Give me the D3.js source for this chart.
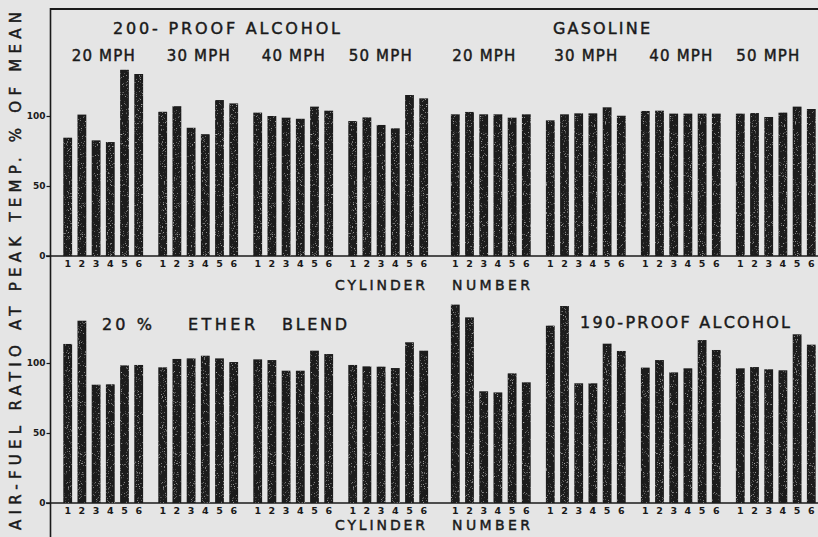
<!DOCTYPE html>
<html lang="en">
<head>
  <meta charset="UTF-8" />
  <title>Air-fuel ratio at peak temperature by cylinder</title>
  <script src="https://cdn.jsdelivr.net/npm/d3@7"></script>
  <style>
    body { margin: 0; background: #e5e5e5; }
    svg { display: block; font-family: "DejaVu Sans", sans-serif; }
    .lbl { stroke: #1a1a1a; stroke-width: 0.45px; }
  </style>
</head>
<body>
  <svg id="chart" width="818" height="537"></svg>
  <script>
    const speeds = ["20 MPH", "30 MPH", "40 MPH", "50 MPH"];
    const cylinders = [1, 2, 3, 4, 5, 6];
    const yTicks = [0, 50, 100];

    // % of mean air-fuel ratio, one row per speed, one value per cylinder
    const alcohol200 = [
      [84.5, 101, 82.6, 81.4, 133, 130],
      [103, 107, 91.6, 87, 111.4, 109],
      [102.4, 100, 98.8, 98, 106.7, 103.8],
      [96.4, 99, 93.6, 91.2, 115, 112.6]
    ];
    const gasoline = [
      [101.2, 102.9, 101.2, 101.2, 98.8, 101.2],
      [96.9, 101.2, 101.9, 101.9, 106.2, 100.2],
      [103.6, 103.8, 101.7, 101.7, 101.7, 101.7],
      [101.7, 102.1, 99.3, 102.4, 106.7, 105]
    ];
    const ether20 = [
      [113.6, 130.2, 84.5, 84.8, 98.3, 98.6],
      [96.9, 102.9, 103.3, 105.2, 103.3, 100.7],
      [102.6, 102.1, 94.5, 94.5, 108.8, 106.4],
      [98.6, 97.6, 97.4, 96.4, 114.8, 108.8]
    ];
    const alcohol190 = [
      [141.7, 132.6, 79.8, 79, 92.6, 86.2],
      [126.7, 140.7, 85.5, 85.5, 113.8, 108.6],
      [96.7, 102.1, 93.3, 96.2, 116.4, 109.3],
      [96.2, 97.1, 95.5, 94.8, 120.5, 113.1]
    ];

    const ink = "#1a1a1a";
    const svg = d3.select("#chart");

    // grainy print look for the bars
    const defs = svg.append("defs");
    const grain = defs.append("filter").attr("id", "grain")
      .attr("x", 0).attr("y", 0).attr("width", 1).attr("height", 1);
    grain.append("feTurbulence")
      .attr("type", "fractalNoise")
      .attr("baseFrequency", 0.9)
      .attr("numOctaves", 2)
      .attr("seed", 4)
      .attr("result", "noise");
    grain.append("feColorMatrix")
      .attr("in", "noise")
      .attr("type", "matrix")
      .attr("values", "0 0 0 0 0.45  0 0 0 0 0.45  0 0 0 0 0.45  0 0 0 4 -2.5")
      .attr("result", "specks");
    grain.append("feComposite")
      .attr("in", "specks").attr("in2", "SourceGraphic")
      .attr("operator", "in").attr("result", "clipped");
    const merge = grain.append("feMerge");
    merge.append("feMergeNode").attr("in", "SourceGraphic");
    merge.append("feMergeNode").attr("in", "clipped");

    svg.append("rect")
      .attr("width", 818)
      .attr("height", 537)
      .attr("fill", "#e5e5e5");

    // nested positions: fuel -> speed -> cylinder
    const fuelX = d3.scaleBand().domain([0, 1]).range([60.6, 835.8]);
    const speedX = d3.scaleBand().domain(speeds).range([0, 380]);
    const cylX = d3.scaleBand()
      .domain(cylinders)
      .range([0, 85.2])
      .paddingInner(0.38)
      .paddingOuter(0.19);

    const panels = [
      { base: 256, series: [alcohol200, gasoline], showSpeeds: true, tickY: 268.5 },
      { base: 503, series: [ether20, alcohol190], showSpeeds: false, tickY: 515.5 }
    ];

    // small nudges so speed labels sit where they were lettered
    const speedNudge = [[0, 0, 0, -8], [-7, 0, 0, -8]];

    // frame: top line + left axis line
    svg.append("line")
      .attr("x1", 50).attr("x2", 818)
      .attr("y1", 9).attr("y2", 9)
      .attr("stroke", ink).attr("stroke-width", 2);
    svg.append("line")
      .attr("x1", 50.5).attr("x2", 50.5)
      .attr("y1", 8).attr("y2", 537)
      .attr("stroke", ink).attr("stroke-width", 1.6);

    panels.forEach(p => {
      const y = d3.scaleLinear().domain([0, 100]).range([p.base, p.base - 140]);

      svg.append("line")
        .attr("x1", 46).attr("x2", 818)
        .attr("y1", y(0)).attr("y2", y(0))
        .attr("stroke", ink).attr("stroke-width", 1.5);

      const ax = svg.append("g")
        .attr("transform", "translate(50.5,0)")
        .call(d3.axisLeft(y).tickValues(yTicks).tickSize(4).tickPadding(1));
      ax.select(".domain").remove();
      ax.selectAll("line").attr("stroke", ink).attr("stroke-width", 1.2);
      ax.selectAll("text")
        .attr("font-size", 9)
        .attr("font-weight", "bold")
        .attr("font-family", "DejaVu Sans")
        .attr("fill", ink);

      p.series.forEach((rows, fi) => {
        rows.forEach((vals, si) => {
          const gx = fuelX(fi) + speedX(speeds[si]);
          const g = svg.append("g").attr("transform", `translate(${gx},0)`);

          g.selectAll("rect")
            .data(vals)
            .join("rect")
            .attr("x", (d, i) => cylX(cylinders[i]))
            .attr("width", cylX.bandwidth())
            .attr("y", d => y(d))
            .attr("height", d => y(0) - y(d))
            .attr("fill", "#1c1c1c")
            .attr("filter", "url(#grain)");

          const xa = g.append("g")
            .attr("transform", `translate(0,${p.tickY - 8})`)
            .call(d3.axisBottom(cylX).tickSize(0).tickPadding(0));
          xa.select(".domain").remove();
          xa.selectAll("text")
            .attr("font-size", 9.5)
            .attr("font-weight", "bold")
            .attr("font-family", "DejaVu Sans")
            .attr("fill", ink);

          if (p.showSpeeds) {
            g.append("text")
              .attr("class", "lbl")
              .attr("x", 42.6 + speedNudge[fi][si])
              .attr("y", 61)
              .attr("text-anchor", "middle")
              .attr("font-size", 15)
              .attr("textLength", 63)
              .attr("lengthAdjust", "spacing")
              .attr("fill", ink)
              .text(speeds[si]);
          }
        });
      });
    });

    // titles and axis labels
    const labels = [
      { t: "200- PROOF ALCOHOL", x: 113, y: 34, w: 227, s: 16 },
      { t: "GASOLINE", x: 553, y: 34, w: 97, s: 16 },
      { t: "20 %", x: 102, y: 330, w: 50, s: 16 },
      { t: "ETHER", x: 188, y: 330, w: 67, s: 16 },
      { t: "BLEND", x: 282, y: 330, w: 65, s: 16 },
      { t: "190-PROOF ALCOHOL", x: 580, y: 328, w: 210, s: 16 },
      { t: "CYLINDER", x: 335, y: 290, w: 90, s: 14 },
      { t: "NUMBER", x: 452, y: 290, w: 78, s: 14 },
      { t: "CYLINDER", x: 335, y: 530, w: 90, s: 14 },
      { t: "NUMBER", x: 452, y: 530, w: 78, s: 14 }
    ];
    svg.selectAll("text.title")
      .data(labels)
      .join("text")
      .attr("class", "lbl title")
      .attr("x", d => d.x)
      .attr("y", d => d.y)
      .attr("font-size", d => d.s)
      .attr("textLength", d => d.w)
      .attr("lengthAdjust", "spacing")
      .attr("fill", ink)
      .text(d => d.t);

    svg.append("text")
      .attr("class", "lbl")
      .attr("transform", "translate(21,271) rotate(-90)")
      .attr("text-anchor", "middle")
      .attr("font-size", 15)
      .attr("textLength", 518)
      .attr("lengthAdjust", "spacing")
      .attr("fill", ink)
      .text("AIR-FUEL RATIO AT PEAK TEMP. % OF MEAN");
  </script>
</body>
</html>
